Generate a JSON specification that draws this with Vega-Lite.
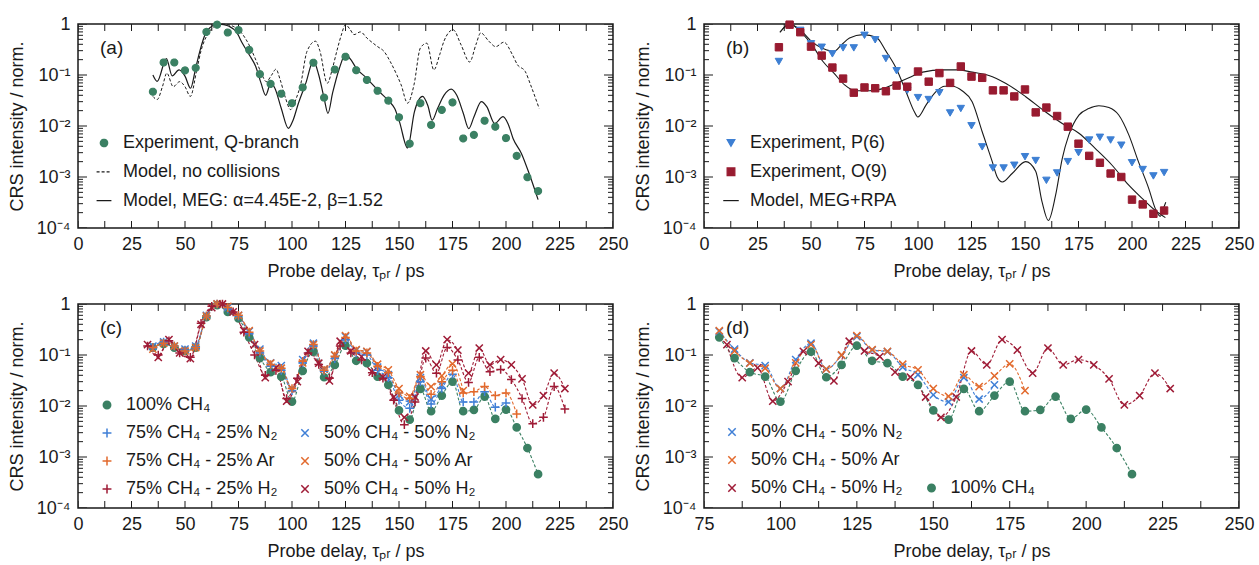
{
"$schema": "https://vega.github.io/schema/vega-lite/v6.json",
"background": "white",
"padding": {"left": 7, "top": 14, "right": 5, "bottom": 5},
"columns": 2,
"spacing": {"row": 76, "column": 91},
"bounds": "flush",
"datasets": {
"xt": [{"t":0},{"t":12.5},{"t":25},{"t":37.5},{"t":50},{"t":62.5},{"t":75},{"t":87.5},{"t":100},{"t":112.5},{"t":125},{"t":137.5},{"t":150},{"t":162.5},{"t":175},{"t":187.5},{"t":200},{"t":212.5},{"t":225},{"t":237.5},{"t":250}],
"xtd": [{"t":75},{"t":87.5},{"t":100},{"t":112.5},{"t":125},{"t":137.5},{"t":150},{"t":162.5},{"t":175},{"t":187.5},{"t":200},{"t":212.5},{"t":225},{"t":237.5},{"t":250}],
"yt": [{"v":0.0001},{"v":0.001},{"v":0.01},{"v":0.1},{"v":1}],
"ym": [{"v":0.0002},{"v":0.0003},{"v":0.0004},{"v":0.0005},{"v":0.0006},{"v":0.0007},{"v":0.0008},{"v":0.0009},{"v":0.002},{"v":0.003},{"v":0.004},{"v":0.005},{"v":0.006},{"v":0.007},{"v":0.008},{"v":0.009},{"v":0.02},{"v":0.03},{"v":0.04},{"v":0.05},{"v":0.06},{"v":0.07},{"v":0.08},{"v":0.09},{"v":0.2},{"v":0.3},{"v":0.4},{"v":0.5},{"v":0.6},{"v":0.7},{"v":0.8},{"v":0.9}],
"pa": [
{"s":"E","t":35,"v":0.047},{"s":"E","t":40,"v":0.176},{"s":"E","t":45,"v":0.176},{"s":"E","t":50,"v":0.123},{"s":"E","t":55,"v":0.138},{"s":"E","t":60,"v":0.70},{"s":"E","t":65,"v":0.97},{"s":"E","t":70,"v":0.68},{"s":"E","t":75,"v":0.76},{"s":"E","t":80,"v":0.31},{"s":"E","t":85,"v":0.104},{"s":"E","t":90,"v":0.067},{"s":"E","t":95,"v":0.043},{"s":"E","t":100,"v":0.028},{"s":"E","t":105,"v":0.057},{"s":"E","t":110,"v":0.174},{"s":"E","t":115,"v":0.036},{"s":"E","t":120,"v":0.128},{"s":"E","t":125,"v":0.228},{"s":"E","t":130,"v":0.124},{"s":"E","t":135,"v":0.080},{"s":"E","t":140,"v":0.049},{"s":"E","t":145,"v":0.0315},{"s":"E","t":150,"v":0.0148},{"s":"E","t":155,"v":0.0045},{"s":"E","t":160,"v":0.028},{"s":"E","t":165,"v":0.0105},{"s":"E","t":170,"v":0.0207},{"s":"E","t":175,"v":0.029},{"s":"E","t":180,"v":0.0057},{"s":"E","t":185,"v":0.0067},{"s":"E","t":190,"v":0.0127},{"s":"E","t":195,"v":0.0097},{"s":"E","t":200,"v":0.0058},{"s":"E","t":205,"v":0.0026},{"s":"E","t":210,"v":0.00099},{"s":"E","t":215,"v":0.00053},
{"s":"N","t":35,"v":0.038},{"s":"N","t":37,"v":0.033},{"s":"N","t":39.5,"v":0.06},{"s":"N","t":41.5,"v":0.109},{"s":"N","t":44.5,"v":0.059},{"s":"N","t":47.5,"v":0.074},{"s":"N","t":50,"v":0.059},{"s":"N","t":52.5,"v":0.038},{"s":"N","t":55.5,"v":0.126},{"s":"N","t":57.5,"v":0.3},{"s":"N","t":60,"v":0.57},{"s":"N","t":63,"v":0.85},{"s":"N","t":66.5,"v":1.0},{"s":"N","t":70,"v":0.97},{"s":"N","t":72.5,"v":0.9},{"s":"N","t":76,"v":0.7},{"s":"N","t":79,"v":0.46},{"s":"N","t":83.5,"v":0.18},{"s":"N","t":86,"v":0.1},{"s":"N","t":88,"v":0.074},{"s":"N","t":90.5,"v":0.1},{"s":"N","t":92.5,"v":0.13},{"s":"N","t":94.5,"v":0.08},{"s":"N","t":97,"v":0.035},{"s":"N","t":99.3,"v":0.021},{"s":"N","t":102,"v":0.035},{"s":"N","t":104,"v":0.064},{"s":"N","t":107,"v":0.29},{"s":"N","t":111,"v":0.46},{"s":"N","t":113,"v":0.3},{"s":"N","t":116.5,"v":0.069},{"s":"N","t":119,"v":0.14},{"s":"N","t":121,"v":0.3},{"s":"N","t":123,"v":0.6},{"s":"N","t":125,"v":0.97},{"s":"N","t":127,"v":0.8},{"s":"N","t":129,"v":0.62},{"s":"N","t":132,"v":0.70},{"s":"N","t":135,"v":0.53},{"s":"N","t":140,"v":0.36},{"s":"N","t":143,"v":0.29},{"s":"N","t":146,"v":0.18},{"s":"N","t":149,"v":0.1},{"s":"N","t":151,"v":0.064},{"s":"N","t":154,"v":0.028},{"s":"N","t":157,"v":0.064},{"s":"N","t":160,"v":0.34},{"s":"N","t":163,"v":0.42},{"s":"N","t":166.3,"v":0.126},{"s":"N","t":169,"v":0.25},{"s":"N","t":171,"v":0.46},{"s":"N","t":175.3,"v":0.77},{"s":"N","t":179,"v":0.39},{"s":"N","t":183,"v":0.18},{"s":"N","t":186,"v":0.4},{"s":"N","t":188.2,"v":0.67},{"s":"N","t":192,"v":0.46},{"s":"N","t":195.2,"v":0.36},{"s":"N","t":199,"v":0.44},{"s":"N","t":203,"v":0.25},{"s":"N","t":205.3,"v":0.16},{"s":"N","t":209,"v":0.117},{"s":"N","t":211.5,"v":0.064},{"s":"N","t":215.5,"v":0.022},
{"s":"M","t":35,"v":0.10},{"s":"M","t":37,"v":0.075},{"s":"M","t":41.3,"v":0.21},{"s":"M","t":44,"v":0.096},{"s":"M","t":47.2,"v":0.126},{"s":"M","t":50,"v":0.095},{"s":"M","t":52.6,"v":0.055},{"s":"M","t":55,"v":0.137},{"s":"M","t":57,"v":0.3},{"s":"M","t":59.7,"v":0.67},{"s":"M","t":62,"v":0.87},{"s":"M","t":65,"v":1.0},{"s":"M","t":68,"v":0.97},{"s":"M","t":70.6,"v":0.9},{"s":"M","t":74,"v":0.7},{"s":"M","t":76.8,"v":0.42},{"s":"M","t":80,"v":0.25},{"s":"M","t":83,"v":0.148},{"s":"M","t":85.5,"v":0.07},{"s":"M","t":87.7,"v":0.04},{"s":"M","t":90.1,"v":0.069},{"s":"M","t":92,"v":0.055},{"s":"M","t":95,"v":0.022},{"s":"M","t":98.3,"v":0.009},{"s":"M","t":100.5,"v":0.013},{"s":"M","t":103,"v":0.028},{"s":"M","t":106.5,"v":0.07},{"s":"M","t":110,"v":0.19},{"s":"M","t":112.5,"v":0.1},{"s":"M","t":115,"v":0.035},{"s":"M","t":116.8,"v":0.0177},{"s":"M","t":119,"v":0.045},{"s":"M","t":122,"v":0.13},{"s":"M","t":125,"v":0.25},{"s":"M","t":127.5,"v":0.2},{"s":"M","t":130,"v":0.137},{"s":"M","t":134.6,"v":0.089},{"s":"M","t":140.8,"v":0.047},{"s":"M","t":145.5,"v":0.030},{"s":"M","t":148,"v":0.022},{"s":"M","t":150.2,"v":0.0122},{"s":"M","t":154,"v":0.0037},{"s":"M","t":157.2,"v":0.019},{"s":"M","t":161,"v":0.038},{"s":"M","t":163.5,"v":0.025},{"s":"M","t":165.5,"v":0.013},{"s":"M","t":168,"v":0.022},{"s":"M","t":171,"v":0.04},{"s":"M","t":174.4,"v":0.053},{"s":"M","t":177,"v":0.04},{"s":"M","t":180,"v":0.018},{"s":"M","t":182.6,"v":0.0089},{"s":"M","t":185,"v":0.015},{"s":"M","t":188.5,"v":0.03},{"s":"M","t":191,"v":0.024},{"s":"M","t":194.7,"v":0.0112},{"s":"M","t":198.6,"v":0.0153},{"s":"M","t":201,"v":0.011},{"s":"M","t":203.3,"v":0.0057},{"s":"M","t":207.2,"v":0.0029},{"s":"M","t":211.1,"v":0.00108},{"s":"M","t":215,"v":0.00036}
],
"pb": [
{"s":"P","t":35,"v":0.184},{"s":"P","t":40,"v":0.94},{"s":"P","t":45,"v":0.75},{"s":"P","t":50,"v":0.41},{"s":"P","t":55,"v":0.35},{"s":"P","t":60,"v":0.26},{"s":"P","t":65,"v":0.34},{"s":"P","t":70,"v":0.34},{"s":"P","t":75,"v":0.60},{"s":"P","t":80,"v":0.49},{"s":"P","t":85,"v":0.21},{"s":"P","t":90,"v":0.121},{"s":"P","t":95,"v":0.050},{"s":"P","t":100,"v":0.036},{"s":"P","t":105,"v":0.033},{"s":"P","t":110,"v":0.045},{"s":"P","t":115,"v":0.018},{"s":"P","t":120,"v":0.022},{"s":"P","t":125,"v":0.0101},{"s":"P","t":130,"v":0.0039},{"s":"P","t":135,"v":0.0015},{"s":"P","t":140,"v":0.0015},{"s":"P","t":145,"v":0.0017},{"s":"P","t":150,"v":0.0025},{"s":"P","t":155,"v":0.0021},{"s":"P","t":160,"v":0.00086},{"s":"P","t":165,"v":0.0012},{"s":"P","t":170,"v":0.0020},{"s":"P","t":175,"v":0.0030},{"s":"P","t":180,"v":0.0053},{"s":"P","t":185,"v":0.0060},{"s":"P","t":190,"v":0.0053},{"s":"P","t":195,"v":0.0042},{"s":"P","t":200,"v":0.0019},{"s":"P","t":205,"v":0.0014},{"s":"P","t":210,"v":0.00105},{"s":"P","t":215,"v":0.00122},
{"s":"O","t":35,"v":0.35},{"s":"O","t":40,"v":0.97},{"s":"O","t":45,"v":0.69},{"s":"O","t":50,"v":0.36},{"s":"O","t":55,"v":0.24},{"s":"O","t":60,"v":0.14},{"s":"O","t":65,"v":0.085},{"s":"O","t":70,"v":0.045},{"s":"O","t":75,"v":0.057},{"s":"O","t":80,"v":0.055},{"s":"O","t":85,"v":0.048},{"s":"O","t":90,"v":0.062},{"s":"O","t":95,"v":0.059},{"s":"O","t":100,"v":0.117},{"s":"O","t":105,"v":0.074},{"s":"O","t":110,"v":0.109},{"s":"O","t":115,"v":0.070},{"s":"O","t":120,"v":0.147},{"s":"O","t":125,"v":0.093},{"s":"O","t":130,"v":0.088},{"s":"O","t":135,"v":0.050},{"s":"O","t":140,"v":0.050},{"s":"O","t":145,"v":0.038},{"s":"O","t":150,"v":0.052},{"s":"O","t":155,"v":0.0185},{"s":"O","t":160,"v":0.023},{"s":"O","t":165,"v":0.0157},{"s":"O","t":170,"v":0.0097},{"s":"O","t":175,"v":0.0045},{"s":"O","t":180,"v":0.0026},{"s":"O","t":185,"v":0.0019},{"s":"O","t":190,"v":0.00117},{"s":"O","t":195,"v":0.0010},{"s":"O","t":200,"v":0.00036},{"s":"O","t":205,"v":0.00029},{"s":"O","t":210,"v":0.00019},{"s":"O","t":215,"v":0.00022},
{"s":"L","k":"P","t":35.5,"v":0.69},{"s":"L","k":"P","t":40,"v":1.0},{"s":"L","k":"P","t":45.6,"v":0.72},{"s":"L","k":"P","t":50.6,"v":0.44},{"s":"L","k":"P","t":55.6,"v":0.33},{"s":"L","k":"P","t":60.7,"v":0.29},{"s":"L","k":"P","t":64,"v":0.38},{"s":"L","k":"P","t":68,"v":0.53},{"s":"L","k":"P","t":74.3,"v":0.62},{"s":"L","k":"P","t":80.5,"v":0.55},{"s":"L","k":"P","t":85.1,"v":0.29},{"s":"L","k":"P","t":89.8,"v":0.136},{"s":"L","k":"P","t":94.4,"v":0.047},{"s":"L","k":"P","t":98.3,"v":0.019},{"s":"L","k":"P","t":99.9,"v":0.015},{"s":"L","k":"P","t":103.8,"v":0.026},{"s":"L","k":"P","t":108.4,"v":0.047},{"s":"L","k":"P","t":112.5,"v":0.06},{"s":"L","k":"P","t":116,"v":0.06},{"s":"L","k":"P","t":120.6,"v":0.049},{"s":"L","k":"P","t":125.3,"v":0.030},{"s":"L","k":"P","t":130,"v":0.0077},{"s":"L","k":"P","t":134.7,"v":0.002},{"s":"L","k":"P","t":137,"v":0.001},{"s":"L","k":"P","t":139.4,"v":0.0008},{"s":"L","k":"P","t":144,"v":0.00117},{"s":"L","k":"P","t":150.3,"v":0.0020},{"s":"L","k":"P","t":155,"v":0.0013},{"s":"L","k":"P","t":158,"v":0.00032},{"s":"L","k":"P","t":160.9,"v":0.00014},{"s":"L","k":"P","t":164.3,"v":0.00044},{"s":"L","k":"P","t":167.4,"v":0.0023},{"s":"L","k":"P","t":170.5,"v":0.0067},{"s":"L","k":"P","t":175.2,"v":0.0164},{"s":"L","k":"P","t":179.8,"v":0.022},{"s":"L","k":"P","t":184.5,"v":0.025},{"s":"L","k":"P","t":189.2,"v":0.023},{"s":"L","k":"P","t":193.8,"v":0.0164},{"s":"L","k":"P","t":198.5,"v":0.0067},{"s":"L","k":"P","t":203,"v":0.0020},{"s":"L","k":"P","t":207.8,"v":0.0006},{"s":"L","k":"P","t":210.9,"v":0.00024},{"s":"L","k":"P","t":213.2,"v":0.00017},{"s":"L","k":"P","t":214.8,"v":0.00025},{"s":"L","k":"P","t":215.8,"v":0.00032},
{"s":"L","k":"O","t":35.5,"v":0.69},{"s":"L","k":"O","t":40,"v":1.0},{"s":"L","k":"O","t":45.6,"v":0.67},{"s":"L","k":"O","t":50.6,"v":0.38},{"s":"L","k":"O","t":55.6,"v":0.184},{"s":"L","k":"O","t":60.7,"v":0.109},{"s":"L","k":"O","t":65.7,"v":0.064},{"s":"L","k":"O","t":70.7,"v":0.049},{"s":"L","k":"O","t":77.4,"v":0.049},{"s":"L","k":"O","t":83.6,"v":0.054},{"s":"L","k":"O","t":89.8,"v":0.069},{"s":"L","k":"O","t":96,"v":0.089},{"s":"L","k":"O","t":102.2,"v":0.114},{"s":"L","k":"O","t":111.5,"v":0.126},{"s":"L","k":"O","t":118,"v":0.126},{"s":"L","k":"O","t":125.3,"v":0.114},{"s":"L","k":"O","t":133.1,"v":0.098},{"s":"L","k":"O","t":140.9,"v":0.069},{"s":"L","k":"O","t":150.2,"v":0.038},{"s":"L","k":"O","t":159.5,"v":0.019},{"s":"L","k":"O","t":167.4,"v":0.0112},{"s":"L","k":"O","t":175.2,"v":0.0072},{"s":"L","k":"O","t":182.9,"v":0.0036},{"s":"L","k":"O","t":190.7,"v":0.0017},{"s":"L","k":"O","t":198.5,"v":0.00069},{"s":"L","k":"O","t":204.7,"v":0.00038},{"s":"L","k":"O","t":210.9,"v":0.00022},{"s":"L","k":"O","t":215.6,"v":0.00016}
],
"pc": [
{"s":"G","t":35,"v":0.14},{"s":"G","t":40,"v":0.165},{"s":"G","t":45,"v":0.14},{"s":"G","t":50,"v":0.12},{"s":"G","t":55,"v":0.14},{"s":"G","t":60,"v":0.55},{"s":"G","t":65,"v":0.95},{"s":"G","t":70,"v":0.70},{"s":"G","t":75,"v":0.52},{"s":"G","t":80,"v":0.222},{"s":"G","t":85,"v":0.087},{"s":"G","t":90,"v":0.046},{"s":"G","t":95,"v":0.0376},{"s":"G","t":100,"v":0.0122},{"s":"G","t":105,"v":0.049},{"s":"G","t":110,"v":0.116},{"s":"G","t":115,"v":0.0366},{"s":"G","t":120,"v":0.064},{"s":"G","t":125,"v":0.152},{"s":"G","t":130,"v":0.077},{"s":"G","t":135,"v":0.069},{"s":"G","t":140,"v":0.0376},{"s":"G","t":145,"v":0.026},{"s":"G","t":150,"v":0.0082},{"s":"G","t":155,"v":0.0054},{"s":"G","t":160,"v":0.0216},{"s":"G","t":165,"v":0.0079},{"s":"G","t":170,"v":0.016},{"s":"G","t":175,"v":0.030},{"s":"G","t":180,"v":0.0079},{"s":"G","t":185,"v":0.0084},{"s":"G","t":190,"v":0.0153},{"s":"G","t":195,"v":0.0056},{"s":"G","t":200,"v":0.0085},{"s":"G","t":205,"v":0.0038},{"s":"G","t":210,"v":0.0015},{"s":"G","t":215,"v":0.00046},
{"s":"N50","t":35,"v":0.15},{"s":"N50","t":40,"v":0.18},{"s":"N50","t":45,"v":0.15},{"s":"N50","t":50,"v":0.13},{"s":"N50","t":55,"v":0.15},{"s":"N50","t":60,"v":0.6},{"s":"N50","t":65,"v":1.0},{"s":"N50","t":70,"v":0.85},{"s":"N50","t":75,"v":0.6},{"s":"N50","t":80,"v":0.29},{"s":"N50","t":85,"v":0.13},{"s":"N50","t":90,"v":0.07},{"s":"N50","t":95,"v":0.062},{"s":"N50","t":100,"v":0.022},{"s":"N50","t":105,"v":0.081},{"s":"N50","t":110,"v":0.17},{"s":"N50","t":115,"v":0.053},{"s":"N50","t":120,"v":0.098},{"s":"N50","t":125,"v":0.23},{"s":"N50","t":130,"v":0.125},{"s":"N50","t":135,"v":0.116},{"s":"N50","t":140,"v":0.058},{"s":"N50","t":145,"v":0.041},{"s":"N50","t":150,"v":0.0165},{"s":"N50","t":155,"v":0.012},{"s":"N50","t":160,"v":0.036},{"s":"N50","t":165,"v":0.0137},{"s":"N50","t":170,"v":0.026},
{"s":"A50","t":35,"v":0.13},{"s":"A50","t":40,"v":0.17},{"s":"A50","t":45,"v":0.15},{"s":"A50","t":50,"v":0.12},{"s":"A50","t":55,"v":0.14},{"s":"A50","t":60,"v":0.58},{"s":"A50","t":65,"v":1.0},{"s":"A50","t":70,"v":0.9},{"s":"A50","t":75,"v":0.6},{"s":"A50","t":80,"v":0.3},{"s":"A50","t":85,"v":0.12},{"s":"A50","t":90,"v":0.069},{"s":"A50","t":95,"v":0.055},{"s":"A50","t":100,"v":0.022},{"s":"A50","t":105,"v":0.07},{"s":"A50","t":110,"v":0.16},{"s":"A50","t":115,"v":0.053},{"s":"A50","t":120,"v":0.1},{"s":"A50","t":125,"v":0.24},{"s":"A50","t":130,"v":0.128},{"s":"A50","t":135,"v":0.118},{"s":"A50","t":140,"v":0.066},{"s":"A50","t":145,"v":0.051},{"s":"A50","t":150,"v":0.022},{"s":"A50","t":155,"v":0.0155},{"s":"A50","t":160,"v":0.041},{"s":"A50","t":165,"v":0.024},{"s":"A50","t":170,"v":0.039},{"s":"A50","t":175,"v":0.067},{"s":"A50","t":180,"v":0.02},
{"s":"H50","t":32.5,"v":0.16},{"s":"H50","t":37.5,"v":0.09},{"s":"H50","t":42.5,"v":0.2},{"s":"H50","t":47.5,"v":0.11},{"s":"H50","t":52.5,"v":0.085},{"s":"H50","t":57.5,"v":0.4},{"s":"H50","t":62.5,"v":0.85},{"s":"H50","t":67.5,"v":1.0},{"s":"H50","t":72.5,"v":0.7},{"s":"H50","t":77.5,"v":0.3},{"s":"H50","t":82.5,"v":0.16},{"s":"H50","t":87.5,"v":0.036},{"s":"H50","t":92.5,"v":0.056},{"s":"H50","t":97.5,"v":0.0124},{"s":"H50","t":102.5,"v":0.03},{"s":"H50","t":107.5,"v":0.118},{"s":"H50","t":112.5,"v":0.069},{"s":"H50","t":117.5,"v":0.031},{"s":"H50","t":122.5,"v":0.186},{"s":"H50","t":127.5,"v":0.12},{"s":"H50","t":132.5,"v":0.093},{"s":"H50","t":137.5,"v":0.046},{"s":"H50","t":142.5,"v":0.037},{"s":"H50","t":147.5,"v":0.015},{"s":"H50","t":152.5,"v":0.006},{"s":"H50","t":157.5,"v":0.015},{"s":"H50","t":162.5,"v":0.12},{"s":"H50","t":167.5,"v":0.064},{"s":"H50","t":172.5,"v":0.2},{"s":"H50","t":177.5,"v":0.125},{"s":"H50","t":182.5,"v":0.044},{"s":"H50","t":187.5,"v":0.137},{"s":"H50","t":192.5,"v":0.064},{"s":"H50","t":197.5,"v":0.081},{"s":"H50","t":202.5,"v":0.064},{"s":"H50","t":207.5,"v":0.034},{"s":"H50","t":212.5,"v":0.0105},{"s":"H50","t":217.5,"v":0.016},{"s":"H50","t":222.5,"v":0.044},{"s":"H50","t":227.5,"v":0.022},
{"s":"N75","t":35,"v":0.14},{"s":"N75","t":40,"v":0.18},{"s":"N75","t":45,"v":0.15},{"s":"N75","t":50,"v":0.125},{"s":"N75","t":55,"v":0.145},{"s":"N75","t":60,"v":0.58},{"s":"N75","t":65,"v":1.0},{"s":"N75","t":70,"v":0.8},{"s":"N75","t":75,"v":0.58},{"s":"N75","t":80,"v":0.26},{"s":"N75","t":85,"v":0.11},{"s":"N75","t":90,"v":0.06},{"s":"N75","t":95,"v":0.05},{"s":"N75","t":100,"v":0.02},{"s":"N75","t":105,"v":0.07},{"s":"N75","t":110,"v":0.15},{"s":"N75","t":115,"v":0.048},{"s":"N75","t":120,"v":0.085},{"s":"N75","t":125,"v":0.2},{"s":"N75","t":130,"v":0.11},{"s":"N75","t":135,"v":0.1},{"s":"N75","t":140,"v":0.05},{"s":"N75","t":145,"v":0.036},{"s":"N75","t":150,"v":0.013},{"s":"N75","t":155,"v":0.009},{"s":"N75","t":160,"v":0.03},{"s":"N75","t":165,"v":0.011},{"s":"N75","t":170,"v":0.022},{"s":"N75","t":175,"v":0.042},{"s":"N75","t":180,"v":0.012},{"s":"N75","t":185,"v":0.012},{"s":"N75","t":190,"v":0.019},{"s":"N75","t":195,"v":0.0095},{"s":"N75","t":200,"v":0.0115},
{"s":"A75","t":35,"v":0.14},{"s":"A75","t":40,"v":0.17},{"s":"A75","t":45,"v":0.15},{"s":"A75","t":50,"v":0.12},{"s":"A75","t":55,"v":0.14},{"s":"A75","t":60,"v":0.58},{"s":"A75","t":65,"v":1.0},{"s":"A75","t":70,"v":0.85},{"s":"A75","t":75,"v":0.6},{"s":"A75","t":80,"v":0.28},{"s":"A75","t":85,"v":0.12},{"s":"A75","t":90,"v":0.065},{"s":"A75","t":95,"v":0.055},{"s":"A75","t":100,"v":0.022},{"s":"A75","t":105,"v":0.075},{"s":"A75","t":110,"v":0.16},{"s":"A75","t":115,"v":0.05},{"s":"A75","t":120,"v":0.095},{"s":"A75","t":125,"v":0.22},{"s":"A75","t":130,"v":0.12},{"s":"A75","t":135,"v":0.11},{"s":"A75","t":140,"v":0.06},{"s":"A75","t":145,"v":0.045},{"s":"A75","t":150,"v":0.018},{"s":"A75","t":155,"v":0.014},{"s":"A75","t":160,"v":0.038},{"s":"A75","t":165,"v":0.017},{"s":"A75","t":170,"v":0.03},{"s":"A75","t":175,"v":0.05},{"s":"A75","t":180,"v":0.018},{"s":"A75","t":185,"v":0.019},{"s":"A75","t":190,"v":0.024},{"s":"A75","t":195,"v":0.016},{"s":"A75","t":200,"v":0.018},{"s":"A75","t":205,"v":0.007},
{"s":"H75","t":32.5,"v":0.15},{"s":"H75","t":37.5,"v":0.1},{"s":"H75","t":42.5,"v":0.19},{"s":"H75","t":47.5,"v":0.11},{"s":"H75","t":52.5,"v":0.09},{"s":"H75","t":57.5,"v":0.42},{"s":"H75","t":62.5,"v":0.9},{"s":"H75","t":67.5,"v":1.0},{"s":"H75","t":72.5,"v":0.7},{"s":"H75","t":77.5,"v":0.28},{"s":"H75","t":82.5,"v":0.1},{"s":"H75","t":87.5,"v":0.04},{"s":"H75","t":92.5,"v":0.05},{"s":"H75","t":97.5,"v":0.014},{"s":"H75","t":102.5,"v":0.035},{"s":"H75","t":107.5,"v":0.11},{"s":"H75","t":112.5,"v":0.065},{"s":"H75","t":117.5,"v":0.035},{"s":"H75","t":122.5,"v":0.15},{"s":"H75","t":127.5,"v":0.11},{"s":"H75","t":132.5,"v":0.08},{"s":"H75","t":137.5,"v":0.045},{"s":"H75","t":142.5,"v":0.035},{"s":"H75","t":147.5,"v":0.013},{"s":"H75","t":152.5,"v":0.0043},{"s":"H75","t":157.5,"v":0.012},{"s":"H75","t":162.5,"v":0.087},{"s":"H75","t":167.5,"v":0.044},{"s":"H75","t":172.5,"v":0.14},{"s":"H75","t":177.5,"v":0.08},{"s":"H75","t":182.5,"v":0.029},{"s":"H75","t":187.5,"v":0.09},{"s":"H75","t":192.5,"v":0.047},{"s":"H75","t":197.5,"v":0.052},{"s":"H75","t":202.5,"v":0.033},{"s":"H75","t":207.5,"v":0.014},{"s":"H75","t":212.5,"v":0.0045},{"s":"H75","t":217.5,"v":0.006},{"s":"H75","t":222.5,"v":0.024},{"s":"H75","t":227.5,"v":0.0087}
]
},
"concat": [
{
"width": 535, "height": 204,
"title": {"text": "(a)", "offset": 0, "dx": 22, "dy": 58, "baseline": "alphabetic"},
"layer": [
{"data": {"name": "pa"}, "mark": {"type": "point", "opacity": 0}, "encoding": {
"x": {"field": "t", "type": "quantitative", "scale": {"domain": [0, 250], "nice": false, "zero": false}, "axis": {"orient": "bottom", "values": [0,25,50,75,100,125,150,175,200,225,250], "ticks": false, "tickSize": 0, "labelPadding": 7, "labelFlush": false, "labelOverlap": false, "title": "Probe delay, τₚᵣ / ps", "titlePadding": 9}},
"y": {"field": "v", "type": "quantitative", "scale": {"type": "log", "domain": [0.0001, 1], "nice": false}, "axis": {"orient": "left", "values": [0.0001,0.001,0.01,0.1,1], "labelExpr": "datum.value > 0.5 ? '1' : datum.value > 0.05 ? '10⁻¹' : datum.value > 0.005 ? '10⁻²' : datum.value > 0.0005 ? '10⁻³' : '10⁻⁴'", "ticks": false, "tickSize": 0, "labelPadding": 8, "labelFlush": false, "labelOverlap": false, "title": "CRS intensity / norm.", "titlePadding": 10}}}},
{"data": {"name": "xt"}, "mark": {"type": "tick", "orient": "vertical", "size": 14, "thickness": 1, "color": "#1a1a1a", "opacity": 1, "clip": true}, "encoding": {"x": {"field": "t", "type": "quantitative", "axis": null}, "y": {"datum": 0.0001, "type": "quantitative", "axis": null}}},
{"data": {"name": "xt"}, "mark": {"type": "tick", "orient": "vertical", "size": 14, "thickness": 1, "color": "#1a1a1a", "opacity": 1, "clip": true}, "encoding": {"x": {"field": "t", "type": "quantitative", "axis": null}, "y": {"datum": 1, "type": "quantitative", "axis": null}}},
{"data": {"name": "yt"}, "mark": {"type": "tick", "orient": "horizontal", "size": 18, "thickness": 1, "color": "#1a1a1a", "opacity": 1, "clip": true}, "encoding": {"x": {"datum": 0, "type": "quantitative", "axis": null}, "y": {"field": "v", "type": "quantitative", "axis": null}}},
{"data": {"name": "yt"}, "mark": {"type": "tick", "orient": "horizontal", "size": 18, "thickness": 1, "color": "#1a1a1a", "opacity": 1, "clip": true}, "encoding": {"x": {"datum": 250, "type": "quantitative", "axis": null}, "y": {"field": "v", "type": "quantitative", "axis": null}}},
{"data": {"name": "ym"}, "mark": {"type": "tick", "orient": "horizontal", "size": 10, "thickness": 1, "color": "#1a1a1a", "opacity": 1, "clip": true}, "encoding": {"x": {"datum": 0, "type": "quantitative", "axis": null}, "y": {"field": "v", "type": "quantitative", "axis": null}}},
{"data": {"name": "ym"}, "mark": {"type": "tick", "orient": "horizontal", "size": 10, "thickness": 1, "color": "#1a1a1a", "opacity": 1, "clip": true}, "encoding": {"x": {"datum": 250, "type": "quantitative", "axis": null}, "y": {"field": "v", "type": "quantitative", "axis": null}}},
{"data": {"name": "pa"}, "transform": [{"filter": "datum.s == 'N'"}], "mark": {"type": "line", "color": "#1a1a1a", "strokeWidth": 1, "strokeDash": [3, 2], "interpolate": "monotone"}, "encoding": {
"x": {"field": "t", "type": "quantitative", "axis": null},
"y": {"field": "v", "type": "quantitative", "axis": null}}},
{"data": {"name": "pa"}, "transform": [{"filter": "datum.s == 'M'"}], "mark": {"type": "line", "color": "#1a1a1a", "strokeWidth": 1.2, "interpolate": "monotone"}, "encoding": {
"x": {"field": "t", "type": "quantitative", "axis": null},
"y": {"field": "v", "type": "quantitative", "axis": null}}},
{"data": {"name": "pa"}, "transform": [{"filter": "datum.s == 'E'"}], "mark": {"type": "point", "filled": true, "opacity": 1, "size": 48, "strokeWidth": 1.2}, "encoding": {
"x": {"field": "t", "type": "quantitative", "axis": null},
"y": {"field": "v", "type": "quantitative", "axis": null},
"color": {"field": "s", "type": "nominal", "scale": {"domain": ["E", "N", "M"], "range": ["#3b8063", "#1a1a1a", "#1a1a1a"]},
 "legend": {"title": null, "orient": "none", "legendX": 17, "legendY": 110, "padding": 0, "rowPadding": 10.8, "labelOffset": 10, "symbolSize": 55, "symbolStrokeWidth": 1.2, "symbolFillColor": "#1a1a1a", "symbolStrokeColor": "#1a1a1a", "labelLimit": 500,
  "labelExpr": "datum.value == 'E' ? 'Experiment, Q-branch' : datum.value == 'N' ? 'Model, no collisions' : 'Model, MEG: α=4.45E-2, β=1.52'"}},
"stroke": {"field": "s", "type": "nominal", "scale": {"domain": ["E", "N", "M"], "range": ["#3b8063", "#1a1a1a", "#1a1a1a"]},
 "legend": {"title": null, "orient": "none", "legendX": 17, "legendY": 110, "padding": 0, "rowPadding": 10.8, "labelOffset": 10, "symbolSize": 55, "symbolStrokeWidth": 1.2, "symbolFillColor": "#1a1a1a", "symbolStrokeColor": "#1a1a1a", "labelLimit": 500,
  "labelExpr": "datum.value == 'E' ? 'Experiment, Q-branch' : datum.value == 'N' ? 'Model, no collisions' : 'Model, MEG: α=4.45E-2, β=1.52'"}},
"strokeDash": {"field": "s", "type": "nominal", "scale": {"domain": ["E", "N", "M"], "range": [[1, 0], [3, 2], [1, 0]]},
 "legend": {"title": null, "orient": "none", "legendX": 17, "legendY": 110, "padding": 0, "rowPadding": 10.8, "labelOffset": 10, "symbolSize": 55, "symbolStrokeWidth": 1.2, "symbolFillColor": "#1a1a1a", "symbolStrokeColor": "#1a1a1a", "labelLimit": 500,
  "labelExpr": "datum.value == 'E' ? 'Experiment, Q-branch' : datum.value == 'N' ? 'Model, no collisions' : 'Model, MEG: α=4.45E-2, β=1.52'"}},
"shape": {"field": "s", "type": "nominal", "scale": {"domain": ["E", "N", "M"], "range": ["circle", "M-2,0H2", "M-2,0H2"]},
 "legend": {"title": null, "orient": "none", "legendX": 17, "legendY": 110, "padding": 0, "rowPadding": 10.8, "labelOffset": 10, "symbolSize": 55, "symbolStrokeWidth": 1.2, "symbolFillColor": "#1a1a1a", "symbolStrokeColor": "#1a1a1a", "labelLimit": 500,
  "labelExpr": "datum.value == 'E' ? 'Experiment, Q-branch' : datum.value == 'N' ? 'Model, no collisions' : 'Model, MEG: α=4.45E-2, β=1.52'"}}}}
],
"resolve": {"axis": {"x": "independent", "y": "independent"}}
},
{
"width": 535, "height": 204,
"title": {"text": "(b)", "offset": 0, "dx": 22, "dy": 58, "baseline": "alphabetic"},
"layer": [
{"data": {"name": "pb"}, "mark": {"type": "point", "opacity": 0}, "encoding": {
"x": {"field": "t", "type": "quantitative", "scale": {"domain": [0, 250], "nice": false, "zero": false}, "axis": {"orient": "bottom", "values": [0,25,50,75,100,125,150,175,200,225,250], "ticks": false, "tickSize": 0, "labelPadding": 7, "labelFlush": false, "labelOverlap": false, "title": "Probe delay, τₚᵣ / ps", "titlePadding": 9}},
"y": {"field": "v", "type": "quantitative", "scale": {"type": "log", "domain": [0.0001, 1], "nice": false}, "axis": {"orient": "left", "values": [0.0001,0.001,0.01,0.1,1], "labelExpr": "datum.value > 0.5 ? '1' : datum.value > 0.05 ? '10⁻¹' : datum.value > 0.005 ? '10⁻²' : datum.value > 0.0005 ? '10⁻³' : '10⁻⁴'", "ticks": false, "tickSize": 0, "labelPadding": 8, "labelFlush": false, "labelOverlap": false, "title": "CRS intensity / norm.", "titlePadding": 10}}}},
{"data": {"name": "xt"}, "mark": {"type": "tick", "orient": "vertical", "size": 14, "thickness": 1, "color": "#1a1a1a", "opacity": 1, "clip": true}, "encoding": {"x": {"field": "t", "type": "quantitative", "axis": null}, "y": {"datum": 0.0001, "type": "quantitative", "axis": null}}},
{"data": {"name": "xt"}, "mark": {"type": "tick", "orient": "vertical", "size": 14, "thickness": 1, "color": "#1a1a1a", "opacity": 1, "clip": true}, "encoding": {"x": {"field": "t", "type": "quantitative", "axis": null}, "y": {"datum": 1, "type": "quantitative", "axis": null}}},
{"data": {"name": "yt"}, "mark": {"type": "tick", "orient": "horizontal", "size": 18, "thickness": 1, "color": "#1a1a1a", "opacity": 1, "clip": true}, "encoding": {"x": {"datum": 0, "type": "quantitative", "axis": null}, "y": {"field": "v", "type": "quantitative", "axis": null}}},
{"data": {"name": "yt"}, "mark": {"type": "tick", "orient": "horizontal", "size": 18, "thickness": 1, "color": "#1a1a1a", "opacity": 1, "clip": true}, "encoding": {"x": {"datum": 250, "type": "quantitative", "axis": null}, "y": {"field": "v", "type": "quantitative", "axis": null}}},
{"data": {"name": "ym"}, "mark": {"type": "tick", "orient": "horizontal", "size": 10, "thickness": 1, "color": "#1a1a1a", "opacity": 1, "clip": true}, "encoding": {"x": {"datum": 0, "type": "quantitative", "axis": null}, "y": {"field": "v", "type": "quantitative", "axis": null}}},
{"data": {"name": "ym"}, "mark": {"type": "tick", "orient": "horizontal", "size": 10, "thickness": 1, "color": "#1a1a1a", "opacity": 1, "clip": true}, "encoding": {"x": {"datum": 250, "type": "quantitative", "axis": null}, "y": {"field": "v", "type": "quantitative", "axis": null}}},
{"data": {"name": "pb"}, "transform": [{"filter": "datum.s == 'L'"}], "mark": {"type": "line", "color": "#1a1a1a", "strokeWidth": 1.1, "interpolate": "monotone"}, "encoding": {
"x": {"field": "t", "type": "quantitative", "axis": null},
"y": {"field": "v", "type": "quantitative", "axis": null},
"detail": {"field": "k", "type": "nominal"}}},
{"data": {"name": "pb"}, "transform": [{"filter": "datum.s != 'L'"}], "mark": {"type": "point", "filled": true, "opacity": 1, "size": 55, "strokeWidth": 1}, "encoding": {
"x": {"field": "t", "type": "quantitative", "axis": null},
"y": {"field": "v", "type": "quantitative", "axis": null},
"color": {"field": "s", "type": "nominal", "scale": {"domain": ["P", "O", "L"], "range": ["#3d7fd3", "#981b30", "#1a1a1a"]},
 "legend": {"title": null, "orient": "none", "legendX": 18, "legendY": 110, "padding": 0, "rowPadding": 10.8, "labelOffset": 10, "symbolSize": 60, "symbolStrokeWidth": 1.2, "symbolFillColor": "#1a1a1a", "symbolStrokeColor": "#1a1a1a", "labelLimit": 500,
  "labelExpr": "datum.value == 'P' ? 'Experiment, P(6)' : datum.value == 'O' ? 'Experiment, O(9)' : 'Model, MEG+RPA'"}},
"stroke": {"field": "s", "type": "nominal", "scale": {"domain": ["P", "O", "L"], "range": ["#3d7fd3", "#981b30", "#1a1a1a"]},
 "legend": {"title": null, "orient": "none", "legendX": 18, "legendY": 110, "padding": 0, "rowPadding": 10.8, "labelOffset": 10, "symbolSize": 60, "symbolStrokeWidth": 1.2, "symbolFillColor": "#1a1a1a", "symbolStrokeColor": "#1a1a1a", "labelLimit": 500,
  "labelExpr": "datum.value == 'P' ? 'Experiment, P(6)' : datum.value == 'O' ? 'Experiment, O(9)' : 'Model, MEG+RPA'"}},
"shape": {"field": "s", "type": "nominal", "scale": {"domain": ["P", "O", "L"], "range": ["triangle-down", "square", "M-2,0H2"]},
 "legend": {"title": null, "orient": "none", "legendX": 18, "legendY": 110, "padding": 0, "rowPadding": 10.8, "labelOffset": 10, "symbolSize": 60, "symbolStrokeWidth": 1.2, "symbolFillColor": "#1a1a1a", "symbolStrokeColor": "#1a1a1a", "labelLimit": 500,
  "labelExpr": "datum.value == 'P' ? 'Experiment, P(6)' : datum.value == 'O' ? 'Experiment, O(9)' : 'Model, MEG+RPA'"}}}}
],
"resolve": {"axis": {"x": "independent", "y": "independent"}}
},
{
"width": 535, "height": 204,
"title": {"text": "(c)", "offset": 0, "dx": 22, "dy": 58, "baseline": "alphabetic"},
"layer": [
{"data": {"name": "pc"}, "mark": {"type": "point", "opacity": 0}, "encoding": {
"x": {"field": "t", "type": "quantitative", "scale": {"domain": [0, 250], "nice": false, "zero": false}, "axis": {"orient": "bottom", "values": [0,25,50,75,100,125,150,175,200,225,250], "ticks": false, "tickSize": 0, "labelPadding": 7, "labelFlush": false, "labelOverlap": false, "title": "Probe delay, τₚᵣ / ps", "titlePadding": 9}},
"y": {"field": "v", "type": "quantitative", "scale": {"type": "log", "domain": [0.0001, 1], "nice": false}, "axis": {"orient": "left", "values": [0.0001,0.001,0.01,0.1,1], "labelExpr": "datum.value > 0.5 ? '1' : datum.value > 0.05 ? '10⁻¹' : datum.value > 0.005 ? '10⁻²' : datum.value > 0.0005 ? '10⁻³' : '10⁻⁴'", "ticks": false, "tickSize": 0, "labelPadding": 8, "labelFlush": false, "labelOverlap": false, "title": "CRS intensity / norm.", "titlePadding": 10}}}},
{"data": {"name": "xt"}, "mark": {"type": "tick", "orient": "vertical", "size": 14, "thickness": 1, "color": "#1a1a1a", "opacity": 1, "clip": true}, "encoding": {"x": {"field": "t", "type": "quantitative", "axis": null}, "y": {"datum": 0.0001, "type": "quantitative", "axis": null}}},
{"data": {"name": "xt"}, "mark": {"type": "tick", "orient": "vertical", "size": 14, "thickness": 1, "color": "#1a1a1a", "opacity": 1, "clip": true}, "encoding": {"x": {"field": "t", "type": "quantitative", "axis": null}, "y": {"datum": 1, "type": "quantitative", "axis": null}}},
{"data": {"name": "yt"}, "mark": {"type": "tick", "orient": "horizontal", "size": 18, "thickness": 1, "color": "#1a1a1a", "opacity": 1, "clip": true}, "encoding": {"x": {"datum": 0, "type": "quantitative", "axis": null}, "y": {"field": "v", "type": "quantitative", "axis": null}}},
{"data": {"name": "yt"}, "mark": {"type": "tick", "orient": "horizontal", "size": 18, "thickness": 1, "color": "#1a1a1a", "opacity": 1, "clip": true}, "encoding": {"x": {"datum": 250, "type": "quantitative", "axis": null}, "y": {"field": "v", "type": "quantitative", "axis": null}}},
{"data": {"name": "ym"}, "mark": {"type": "tick", "orient": "horizontal", "size": 10, "thickness": 1, "color": "#1a1a1a", "opacity": 1, "clip": true}, "encoding": {"x": {"datum": 0, "type": "quantitative", "axis": null}, "y": {"field": "v", "type": "quantitative", "axis": null}}},
{"data": {"name": "ym"}, "mark": {"type": "tick", "orient": "horizontal", "size": 10, "thickness": 1, "color": "#1a1a1a", "opacity": 1, "clip": true}, "encoding": {"x": {"datum": 250, "type": "quantitative", "axis": null}, "y": {"field": "v", "type": "quantitative", "axis": null}}},
{"data": {"name": "pc"}, "mark": {"type": "line", "strokeWidth": 1.1, "strokeDash": [3, 2], "interpolate": "monotone"}, "encoding": {
"x": {"field": "t", "type": "quantitative", "axis": null},
"y": {"field": "v", "type": "quantitative", "axis": null},
"color": {"field": "s", "type": "nominal", "scale": {"domain": ["G", "N75", "N50", "A75", "A50", "H75", "H50"], "range": ["#3b8063", "#3f7fd6", "#3f7fd6", "#e2692c", "#e2692c", "#9f1b36", "#9f1b36"]}, "legend": null}}},
{"data": {"name": "pc"}, "mark": {"type": "point", "filled": true, "fill": "#3b8063", "opacity": 1, "size": 52, "strokeWidth": 1.5}, "encoding": {
"x": {"field": "t", "type": "quantitative", "axis": null},
"y": {"field": "v", "type": "quantitative", "axis": null},
"stroke": {"field": "s", "type": "nominal", "scale": {"domain": ["G", "N75", "A75", "H75", "blank", "N50", "A50", "H50"], "range": ["#3b8063", "#3f7fd6", "#e2692c", "#9f1b36", "transparent", "#3f7fd6", "#e2692c", "#9f1b36"]},
 "legend": {"title": null, "orient": "none", "legendX": 20, "legendY": 92, "padding": 0, "columns": 2, "columnPadding": 18, "rowPadding": 10, "labelOffset": 10, "symbolSize": 55, "symbolStrokeWidth": 1.5, "symbolStrokeColor": "#1a1a1a", "labelLimit": 500,
  "labelExpr": "datum.value == 'G' ? '100% CH₄' : datum.value == 'N75' ? '75% CH₄ - 25% N₂' : datum.value == 'A75' ? '75% CH₄ - 25% Ar' : datum.value == 'H75' ? '75% CH₄ - 25% H₂' : datum.value == 'N50' ? '50% CH₄ - 50% N₂' : datum.value == 'A50' ? '50% CH₄ - 50% Ar' : datum.value == 'H50' ? '50% CH₄ - 50% H₂' : ''"}},
"shape": {"field": "s", "type": "nominal", "scale": {"domain": ["G", "N75", "A75", "H75", "blank", "N50", "A50", "H50"], "range": ["circle", "M-1.2,0H1.2M0,-1.2V1.2", "M-1.2,0H1.2M0,-1.2V1.2", "M-1.2,0H1.2M0,-1.2V1.2", "M0,0L0.01,0", "M-1,-1L1,1M-1,1L1,-1", "M-1,-1L1,1M-1,1L1,-1", "M-1,-1L1,1M-1,1L1,-1"]},
 "legend": {"title": null, "orient": "none", "legendX": 20, "legendY": 92, "padding": 0, "columns": 2, "columnPadding": 18, "rowPadding": 10, "labelOffset": 10, "symbolSize": 55, "symbolStrokeWidth": 1.5, "symbolStrokeColor": "#1a1a1a", "labelLimit": 500,
  "labelExpr": "datum.value == 'G' ? '100% CH₄' : datum.value == 'N75' ? '75% CH₄ - 25% N₂' : datum.value == 'A75' ? '75% CH₄ - 25% Ar' : datum.value == 'H75' ? '75% CH₄ - 25% H₂' : datum.value == 'N50' ? '50% CH₄ - 50% N₂' : datum.value == 'A50' ? '50% CH₄ - 50% Ar' : datum.value == 'H50' ? '50% CH₄ - 50% H₂' : ''"}}}}
],
"resolve": {"axis": {"x": "independent", "y": "independent"}}
},
{
"width": 535, "height": 204,
"title": {"text": "(d)", "offset": 0, "dx": 22, "dy": 58, "baseline": "alphabetic"},
"layer": [
{"data": {"name": "xtd"}, "mark": {"type": "point", "opacity": 0}, "encoding": {
"x": {"field": "t", "type": "quantitative", "scale": {"domain": [75, 250], "nice": false, "zero": false}, "axis": {"orient": "bottom", "values": [75,100,125,150,175,200,225,250], "ticks": false, "tickSize": 0, "labelPadding": 7, "labelFlush": false, "labelOverlap": false, "title": "Probe delay, τₚᵣ / ps", "titlePadding": 9}},
"y": {"datum": 0.01, "type": "quantitative", "scale": {"type": "log", "domain": [0.0001, 1], "nice": false}, "axis": {"orient": "left", "values": [0.0001,0.001,0.01,0.1,1], "labelExpr": "datum.value > 0.5 ? '1' : datum.value > 0.05 ? '10⁻¹' : datum.value > 0.005 ? '10⁻²' : datum.value > 0.0005 ? '10⁻³' : '10⁻⁴'", "ticks": false, "tickSize": 0, "labelPadding": 8, "labelFlush": false, "labelOverlap": false, "title": "CRS intensity / norm.", "titlePadding": 10}}}},
{"data": {"name": "xtd"}, "mark": {"type": "tick", "orient": "vertical", "size": 14, "thickness": 1, "color": "#1a1a1a", "opacity": 1, "clip": true}, "encoding": {"x": {"field": "t", "type": "quantitative", "axis": null}, "y": {"datum": 0.0001, "type": "quantitative", "axis": null}}},
{"data": {"name": "xtd"}, "mark": {"type": "tick", "orient": "vertical", "size": 14, "thickness": 1, "color": "#1a1a1a", "opacity": 1, "clip": true}, "encoding": {"x": {"field": "t", "type": "quantitative", "axis": null}, "y": {"datum": 1, "type": "quantitative", "axis": null}}},
{"data": {"name": "yt"}, "mark": {"type": "tick", "orient": "horizontal", "size": 18, "thickness": 1, "color": "#1a1a1a", "opacity": 1, "clip": true}, "encoding": {"x": {"datum": 75, "type": "quantitative", "axis": null}, "y": {"field": "v", "type": "quantitative", "axis": null}}},
{"data": {"name": "yt"}, "mark": {"type": "tick", "orient": "horizontal", "size": 18, "thickness": 1, "color": "#1a1a1a", "opacity": 1, "clip": true}, "encoding": {"x": {"datum": 250, "type": "quantitative", "axis": null}, "y": {"field": "v", "type": "quantitative", "axis": null}}},
{"data": {"name": "ym"}, "mark": {"type": "tick", "orient": "horizontal", "size": 10, "thickness": 1, "color": "#1a1a1a", "opacity": 1, "clip": true}, "encoding": {"x": {"datum": 75, "type": "quantitative", "axis": null}, "y": {"field": "v", "type": "quantitative", "axis": null}}},
{"data": {"name": "ym"}, "mark": {"type": "tick", "orient": "horizontal", "size": 10, "thickness": 1, "color": "#1a1a1a", "opacity": 1, "clip": true}, "encoding": {"x": {"datum": 250, "type": "quantitative", "axis": null}, "y": {"field": "v", "type": "quantitative", "axis": null}}},
{"data": {"name": "pc"}, "transform": [{"filter": "datum.t >= 79 && (datum.s == 'G' || datum.s == 'N50' || datum.s == 'A50' || datum.s == 'H50')"}], "mark": {"type": "line", "strokeWidth": 1.1, "strokeDash": [3, 2], "interpolate": "monotone"}, "encoding": {
"x": {"field": "t", "type": "quantitative", "axis": null},
"y": {"field": "v", "type": "quantitative", "axis": null},
"color": {"field": "s", "type": "nominal", "scale": {"domain": ["N50", "A50", "H50", "G"], "range": ["#3f7fd6", "#e2692c", "#9f1b36", "#3b8063"]}, "legend": null}}},
{"data": {"name": "pc"}, "transform": [{"filter": "datum.t >= 79 && (datum.s == 'G' || datum.s == 'N50' || datum.s == 'A50' || datum.s == 'H50')"}], "mark": {"type": "point", "filled": true, "fill": "#3b8063", "opacity": 1, "size": 52, "strokeWidth": 1.5}, "encoding": {
"x": {"field": "t", "type": "quantitative", "axis": null},
"y": {"field": "v", "type": "quantitative", "axis": null},
"stroke": {"field": "s", "type": "nominal", "scale": {"domain": ["N50", "A50", "H50", "blank1", "blank2", "G"], "range": ["#3f7fd6", "#e2692c", "#9f1b36", "transparent", "transparent", "#3b8063"]},
 "legend": {"title": null, "orient": "none", "legendX": 19, "legendY": 119, "padding": 0, "columns": 2, "columnPadding": 19.5, "rowPadding": 10, "labelOffset": 10, "symbolSize": 55, "symbolStrokeWidth": 1.5, "symbolStrokeColor": "#1a1a1a", "labelLimit": 500,
  "labelExpr": "datum.value == 'G' ? '100% CH₄' : datum.value == 'N50' ? '50% CH₄ - 50% N₂' : datum.value == 'A50' ? '50% CH₄ - 50% Ar' : datum.value == 'H50' ? '50% CH₄ - 50% H₂' : ''"}},
"shape": {"field": "s", "type": "nominal", "scale": {"domain": ["N50", "A50", "H50", "blank1", "blank2", "G"], "range": ["M-1,-1L1,1M-1,1L1,-1", "M-1,-1L1,1M-1,1L1,-1", "M-1,-1L1,1M-1,1L1,-1", "M0,0L0.01,0", "M0,0L0.01,0", "circle"]},
 "legend": {"title": null, "orient": "none", "legendX": 19, "legendY": 119, "padding": 0, "columns": 2, "columnPadding": 19.5, "rowPadding": 10, "labelOffset": 10, "symbolSize": 55, "symbolStrokeWidth": 1.5, "symbolStrokeColor": "#1a1a1a", "labelLimit": 500,
  "labelExpr": "datum.value == 'G' ? '100% CH₄' : datum.value == 'N50' ? '50% CH₄ - 50% N₂' : datum.value == 'A50' ? '50% CH₄ - 50% Ar' : datum.value == 'H50' ? '50% CH₄ - 50% H₂' : ''"}}}}
],
"resolve": {"axis": {"x": "independent", "y": "independent"}}
}
],
"resolve": {"scale": {"color": "independent", "shape": "independent", "stroke": "independent", "strokeDash": "independent"}, "legend": {"color": "independent", "shape": "independent", "stroke": "independent", "strokeDash": "independent"}},
"config": {
"font": "Liberation Sans",
"view": {"stroke": "#1a1a1a", "strokeWidth": 1.5},
"axis": {"domain": false, "grid": false, "tickColor": "#1a1a1a", "tickWidth": 1, "labelColor": "#1a1a1a", "titleColor": "#1a1a1a", "labelFont": "Liberation Sans", "titleFont": "Liberation Sans", "labelFontSize": 18, "titleFontSize": 18, "titleFontWeight": "normal"},
"legend": {"labelFont": "Liberation Sans", "labelFontSize": 18, "labelColor": "#1a1a1a"},
"title": {"font": "Liberation Sans", "fontSize": 19, "fontWeight": "normal", "color": "#1a1a1a", "anchor": "start", "frame": "group"}
}
}
